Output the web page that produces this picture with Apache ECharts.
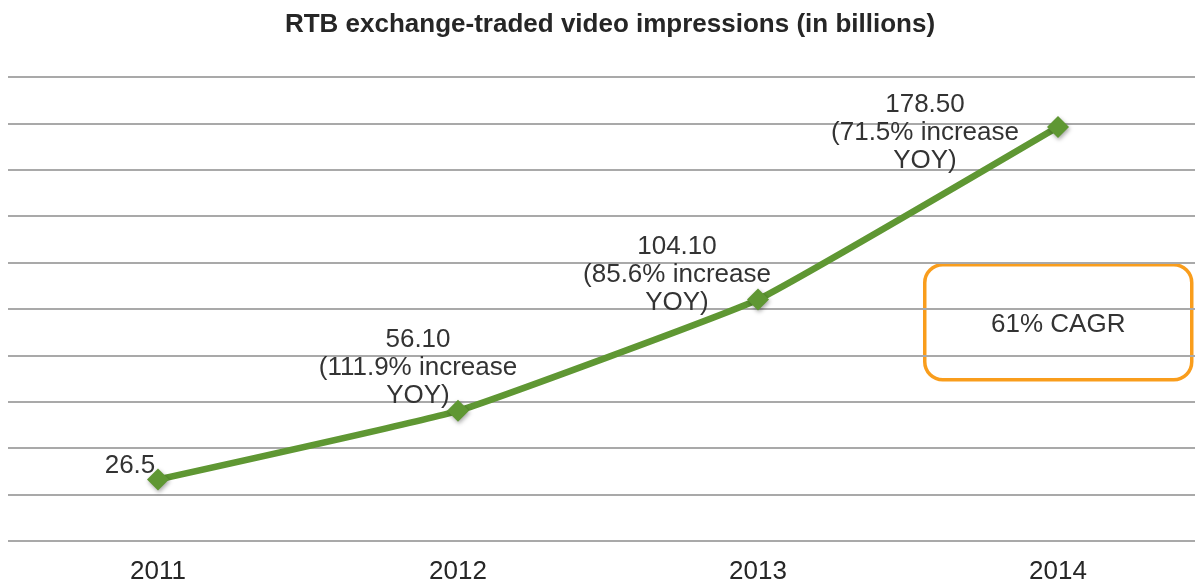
<!DOCTYPE html>
<html>
<head>
<meta charset="utf-8">
<script src="https://cdn.jsdelivr.net/npm/echarts@6/dist/echarts.min.js"></script>
<style>
html,body{margin:0;padding:0;background:#fff;overflow:hidden;width:1195px;height:586px;}
#chart{width:1208px;height:586px;}
</style>
</head>
<body>
<div id="chart"></div>
<script>
const years = ['2011', '2012', '2013', '2014'];
const impressions = [26.5, 56.10, 104.10, 178.50];
const valueText = ['26.5', '56.10', '104.10', '178.50'];
const yoyGrowth = [null, '111.9%', '85.6%', '71.5%'];
const yTicks = { min: 0, max: 200, interval: 20 };
const titleText = 'RTB exchange-traded video impressions (in billions)';
const cagrText = '61% CAGR';

const labelOffsets = [[-28, -14], [-40, -43], [-81, -25], [-133, 6]];

const chart = echarts.init(document.getElementById('chart'), null, { renderer: 'canvas' });

const seriesData = impressions.map((v, i) => ({
  value: v,
  label: {
    show: true,
    position: 'inside',
    offset: labelOffsets[i],
    align: 'center',
    verticalAlign: 'middle',
    formatter: () => yoyGrowth[i] ? valueText[i] + '\n(' + yoyGrowth[i] + ' increase\nYOY)' : valueText[i]
  }
}));

chart.setOption({
  animation: false,
  backgroundColor: '#ffffff',
  title: {
    text: titleText,
    left: 605,
    textAlign: 'center',
    top: 7,
    textStyle: { fontFamily: 'Liberation Sans', fontSize: 26, fontWeight: 'bold', color: '#262626' }
  },
  grid: { left: 8, right: 0, top: 77, bottom: 45, containLabel: false },
  xAxis: {
    type: 'category',
    data: years,
    boundaryGap: true,
    axisLine: { show: false },
    axisTick: { show: false },
    axisLabel: { fontFamily: 'Liberation Sans', fontSize: 26, color: '#262626', margin: 18 }
  },
  yAxis: {
    type: 'value',
    min: yTicks.min,
    max: yTicks.max,
    interval: yTicks.interval,
    axisLine: { show: false },
    axisTick: { show: false },
    axisLabel: { show: false },
    splitLine: { lineStyle: { color: '#a9a9a9', width: 2 } }
  },
  series: [{
    type: 'line',
    data: seriesData,
    smooth: 0.1,
    symbol: 'diamond',
    symbolSize: 22,
    lineStyle: { color: '#5f9733', width: 6.5 },
    itemStyle: { color: '#5f9733', shadowColor: 'rgba(0,0,0,0.35)', shadowBlur: 4, shadowOffsetX: 1, shadowOffsetY: 2 },
    label: {
      fontFamily: 'Liberation Sans',
      fontSize: 26,
      lineHeight: 28,
      color: '#333333'
    },
    z: 3
  }],
  graphic: [{
    type: 'group',
    left: 923,
    top: 263,
    children: [{
      type: 'rect',
      shape: { x: 0, y: 0, width: 267, height: 115, r: 18 },
      style: { fill: '#ffffff', stroke: '#f99d1c', lineWidth: 3.5 }
    }, {
      type: 'text',
      style: {
        x: 133.5, y: 60,
        text: cagrText,
        align: 'center',
        verticalAlign: 'middle',
        fontFamily: 'Liberation Sans',
        fontSize: 26,
        fill: '#333333'
      }
    }]
  }]
});
</script>
</body>
</html>
